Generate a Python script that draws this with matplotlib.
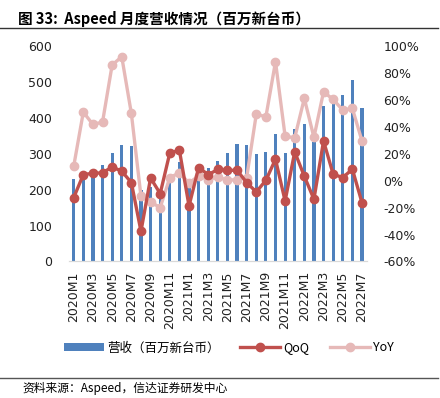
import matplotlib
matplotlib.use('Agg')
import matplotlib.pyplot as plt
from matplotlib.ticker import FuncFormatter

plt.rcParams['font.family'] = ['Noto Sans CJK SC', 'DejaVu Sans']

months = [f'{y}M{m}' for y in (2020, 2021, 2022) for m in range(1, 13)][:31]

# 营收（百万新台币）
revenue = [231, 241, 253, 270, 301, 324, 321, 200, 206, 189, 227, 278, 230, 250, 259, 281,
           303, 327, 323, 300, 304, 355, 302, 368, 382, 333, 433, 452, 464, 506, 427]
# QoQ, %
qoq = [-12.6, 4.5, 5.5, 5.8, 10.2, 7.0, -1.4, -37.6, 2.0, -9.6, 20.6, 22.6, -18.8, 9.7, 4.5, 8.3,
       7.7, 7.7, -1.4, -8.4, 0.3, 15.9, -15.1, 21.4, 3.3, -13.8, 29.5, 4.8, 2.3, 8.5, -16.3]
# YoY, %
yoy = [10.7, 50.9, 41.7, 43.5, 85.9, 92.0, 49.9, -11.6, -15.8, -20.0, 2.3, 5.8, -1.7, 3.5, 0.8, 2.8,
       0.3, 0.8, 2.3, 49.4, 47.4, 88.3, 33.0, 31.8, 61.1, 32.1, 66.0, 60.3, 52.4, 53.6, 29.5]

x = list(range(len(months)))

fig = plt.figure(figsize=(4.4, 3.98), dpi=100)
ax = fig.add_axes([0.1566, 0.343, 0.677, 0.5415])
ax2 = ax.twinx()

bars = ax.bar(x, revenue, width=0.33, color='#4f81bd', label='营收（百万新台币）', zorder=2)
l1, = ax2.plot(x, qoq, color='#c0504d', lw=2.4, marker='o', ms=6, label='QoQ', zorder=4)
l2, = ax2.plot(x, yoy, color='#e6b9b8', lw=2.4, marker='o', ms=6, label='YoY', zorder=3)
ax.set_zorder(1)
ax2.set_zorder(2)
ax.patch.set_visible(False)

ax.set_xlim(-0.5, len(months) - 0.5)
ax.set_ylim(0, 600)
ax.set_yticks(range(0, 601, 100))
ax2.set_ylim(-60, 100)
ax2.set_yticks(range(-60, 101, 20))
ax2.yaxis.set_major_formatter(FuncFormatter(lambda v, p: f'{int(v)}%'))

ax.set_xticks(x[::2])
ax.set_xticklabels(months[::2], rotation=90, fontsize=9, family='DejaVu Sans', color='#222222')

for a in (ax, ax2):
    for s in ('top', 'left', 'right'):
        a.spines[s].set_visible(False)
    a.spines['bottom'].set_color('#d9d9d9')
ax.tick_params(axis='x', length=0, pad=7)
ax.tick_params(axis='y', length=0, pad=12, labelsize=9, labelcolor='#222222')
ax2.tick_params(axis='y', length=0, pad=12, labelsize=9, labelcolor='#222222')
for lab in ax.get_yticklabels() + ax2.get_yticklabels():
    lab.set_family('DejaVu Sans')

fig.legend([bars, l1, l2], ['营收（百万新台币）', 'QoQ', 'YoY'], loc='center',
           bbox_to_anchor=(0.52, 0.126), ncol=3, frameon=False, fontsize=9,
           handlelength=3.2, handletextpad=0.3, columnspacing=1.6)

fig.text(0.04, 0.952, '图 33:  Aspeed 月度营收情况（百万新台币）', fontsize=10.5,
         fontweight='bold', va='center', ha='left')
fig.add_artist(plt.Line2D([0, 0.995], [0.93, 0.93], color='#333333', lw=1))
fig.add_artist(plt.Line2D([0, 0.995], [0.049, 0.049], color='#555555', lw=1))
fig.text(0.05, 0.025, '资料来源：Aspeed，信达证券研发中心', fontsize=8.5, style='italic',
         va='center', ha='left')

fig.savefig('out.png', dpi=100)
